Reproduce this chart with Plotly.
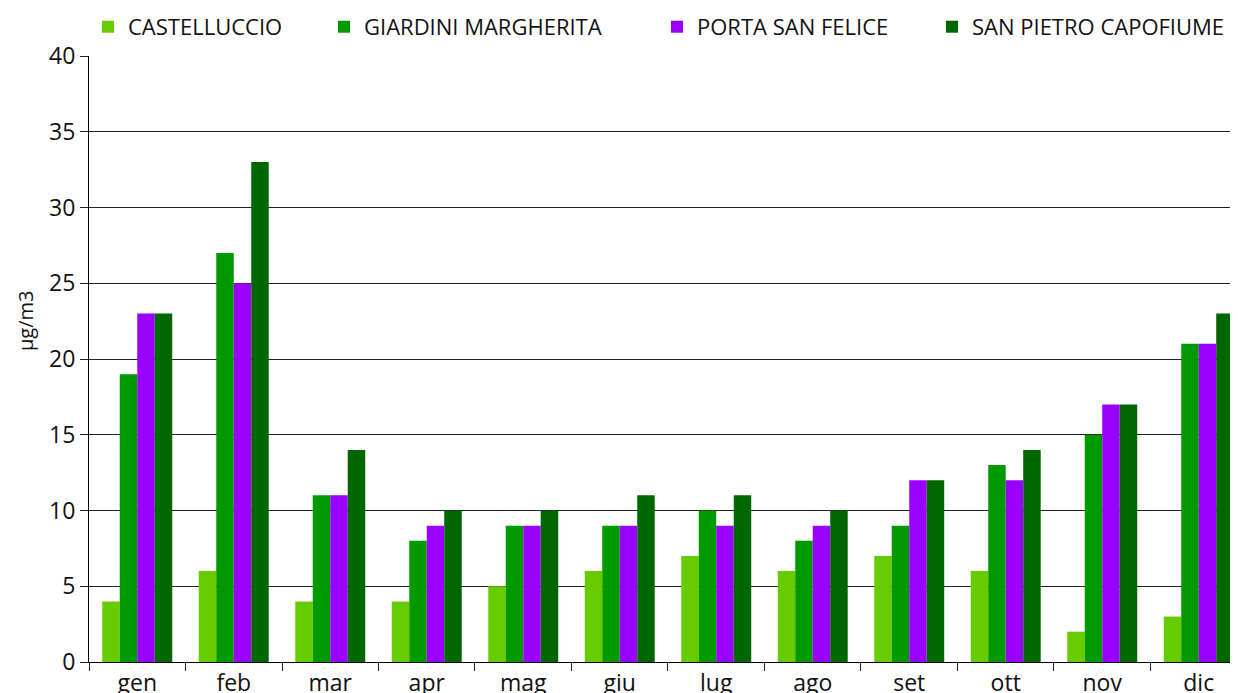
import plotly.graph_objects as go

months = ["gen", "feb", "mar", "apr", "mag", "giu", "lug", "ago", "set", "ott", "nov", "dic"]
castelluccio = [4, 6, 4, 4, 5, 6, 7, 6, 7, 6, 2, 3]
giardini = [19, 27, 11, 8, 9, 9, 10, 8, 9, 13, 15, 21]
porta = [23, 25, 11, 9, 9, 9, 9, 9, 12, 12, 17, 21]
san_pietro = [23, 33, 14, 10, 10, 11, 11, 10, 12, 14, 17, 23]
y_title = "µg/m3"

series = [
    ("CASTELLUCCIO", castelluccio, "#66CC00", "legend"),
    ("GIARDINI MARGHERITA", giardini, "#009900", "legend2"),
    ("PORTA SAN FELICE", porta, "#9900FF", "legend3"),
    ("SAN PIETRO CAPOFIUME", san_pietro, "#006600", "legend4"),
]

FONT = "Open Sans"
fig = go.Figure()
for name, vals, color, lg in series:
    fig.add_trace(go.Bar(x=months, y=vals, name=name, marker_color=color,
                         marker_line_width=0, legend=lg, showlegend=True))

# page body has an 8px margin; figure sized to fit in the window
W, H = 1230, 685
L, R, T, B = 81, 0, 48, 31
pw = W - L - R
ph = H - T - B

def lx(px):
    # px = desired page x
    return (px - 8 - L) / pw

def ly(py):
    # py = desired page y
    return (H - B + 8 - py) / ph

leg_common = dict(orientation="h", yanchor="middle", y=1.048, xanchor="left",
                  font=dict(family=FONT, size=22, color="#111"),
                  bgcolor="rgba(0,0,0,0)", borderwidth=0)

fig.update_layout(
    width=W, height=H,
    margin=dict(l=L, r=R, t=T, b=B, autoexpand=False),
    paper_bgcolor="white", plot_bgcolor="white",
    showlegend=True,
    bargap=0.275, bargroupgap=0,
    font=dict(family=FONT, color="#111"),
    legend=dict(x=lx(88), **leg_common),
    legend2=dict(x=lx(324), **leg_common),
    legend3=dict(x=lx(657), **leg_common),
    legend4=dict(x=lx(932), **leg_common),
    xaxis=dict(type="category", range=[-0.5, 11.407], tickson="boundaries",
               ticks="outside", ticklen=8, tickcolor="#222", showline=True,
               linecolor="#000", linewidth=1, showgrid=False, automargin=False,
               tickfont=dict(family=FONT, size=23, color="#111")),
    yaxis=dict(range=[0, 40], dtick=5, ticks="outside", ticklen=8, tickcolor="#222",
               showline=True, linecolor="#000", linewidth=1, showgrid=True,
               gridcolor="#222", gridwidth=1, zeroline=False, automargin=False,
               tickfont=dict(family=FONT, size=23, color="#111")),
    annotations=[dict(text=y_title, xref="paper", yref="paper", x=lx(25), y=ly(321),
                      xanchor="center", yanchor="middle", textangle=-90, showarrow=False,
                      font=dict(family=FONT, size=20, color="#111"))],
)

fig.write_html("out.html")
